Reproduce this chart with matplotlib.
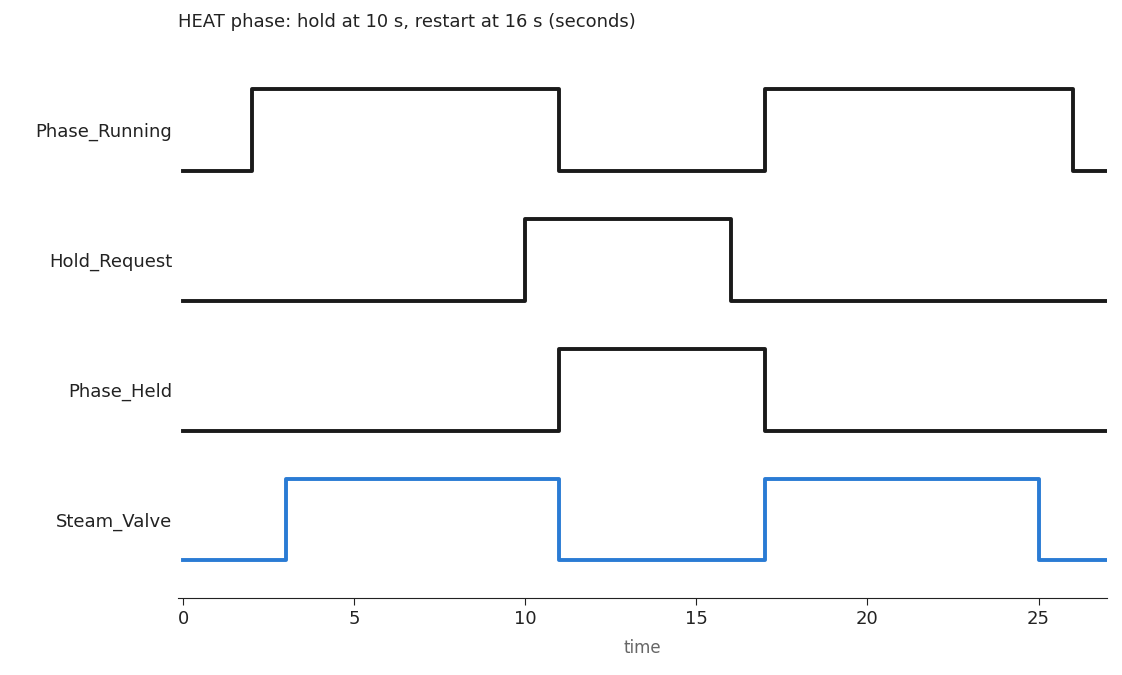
import matplotlib
matplotlib.use("Agg")
import matplotlib.pyplot as plt
plt.rcParams["font.family"] = ["DejaVu Sans"]

signals = ["Phase_Running", "Hold_Request", "Phase_Held", "Steam_Valve"]
times = {
    "Phase_Running": [0, 2, 11, 17, 26, 27],
    "Hold_Request": [0, 10, 16, 27],
    "Phase_Held": [0, 11, 17, 27],
    "Steam_Valve": [0, 3, 11, 17, 25, 27],
}
values = {
    "Phase_Running": [0, 1, 0, 1, 0, 0],
    "Hold_Request": [0, 1, 0, 0],
    "Phase_Held": [0, 1, 0, 0],
    "Steam_Valve": [0, 1, 0, 1, 0, 0],
}
colors = {"Phase_Running": "#1a1a1a", "Hold_Request": "#1a1a1a",
          "Phase_Held": "#1a1a1a", "Steam_Valve": "#2a7bd4"}
xticks = [0, 5, 10, 15, 20, 25]

fig = plt.figure(figsize=(11.22, 6.75), dpi=100)
ax = fig.add_axes([0.1586, 0.114, 0.828, 0.806])
amp = 0.63
centers = []
for i, name in enumerate(signals):
    base = len(signals) - 1 - i
    ys = [base + v * amp for v in values[name]]
    ax.step(times[name], ys, where="post", color=colors[name], lw=2.8)
    centers.append(base + amp / 2)
ax.set_yticks(centers)
ax.set_yticklabels(signals, fontsize=13, color="#222222")
ax.tick_params(axis="y", length=0, pad=4)
ax.set_xticks(xticks)
ax.tick_params(axis="x", labelsize=13, length=5, colors="#222222")
ax.set_xlim(-0.15, 27)
ax.set_ylim(-0.29, 3.9)
for s in ["left", "right", "top"]:
    ax.spines[s].set_visible(False)
ax.spines["bottom"].set_color("#222222")
ax.set_xlabel("time", fontsize=12, color="#666666", labelpad=8)
fig.text(0.1586, 0.967, "HEAT phase: hold at 10 s, restart at 16 s (seconds)",
         fontsize=13, color="#222222", ha="left", va="center")
fig.savefig("out.png", dpi=100)
